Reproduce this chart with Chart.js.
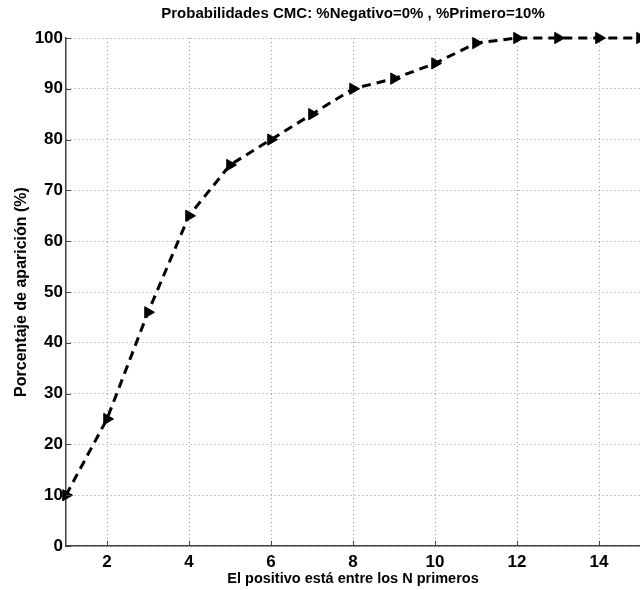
<!DOCTYPE html>
<html>
<head>
<meta charset="utf-8">
<script src="https://cdn.jsdelivr.net/npm/chart.js@4/dist/chart.umd.min.js"></script>
<style>
  html, body { margin: 0; padding: 0; background: #fff; }
  #wrap { width: 640px; height: 590px; position: relative; }
</style>
</head>
<body>
<div id="wrap"><canvas id="cmcChart" width="640" height="590"></canvas></div>
<script>
// Datos
const rangos = [1, 2, 3, 4, 5, 6, 7, 8, 9, 10, 11, 12, 13, 14, 15];
const porcentajes = [10, 25, 46, 65, 75, 80, 85, 90, 92, 95, 99, 100, 100, 100, 100];
const xTicks = [2, 4, 6, 8, 10, 12, 14];

const FONT = "'Liberation Sans', Arial, Helvetica, sans-serif";

// Título centrado sobre el área del gráfico + marcas interiores estilo MATLAB
const extrasPlugin = {
    id: 'extras',
    afterDraw(chart) {
        const { ctx, chartArea, scales } = chart;
        ctx.save();
        ctx.strokeStyle = '#444';
        ctx.lineWidth = 1;
        ctx.beginPath();
        xTicks.forEach(v => {
            const px = Math.round(scales.x.getPixelForValue(v)) + 0.5;
            ctx.moveTo(px, chartArea.bottom);
            ctx.lineTo(px, chartArea.bottom - 5);
        });
        scales.y.ticks.forEach(t => {
            const py = Math.round(scales.y.getPixelForValue(t.value)) + 0.5;
            ctx.moveTo(chartArea.left, py);
            ctx.lineTo(chartArea.left + 5, py);
        });
        ctx.stroke();

        ctx.font = 'bold 15px ' + FONT;
        ctx.fillStyle = '#000';
        ctx.textAlign = 'center';
        ctx.textBaseline = 'middle';
        ctx.fillText('Probabilidades CMC: %Negativo=0% , %Primero=10%', (chartArea.left + chartArea.right) / 2, 14);
        ctx.restore();
    }
};

new Chart(document.getElementById('cmcChart'), {
    type: 'line',
    data: {
        datasets: [{
            data: rangos.map((n, i) => ({ x: n, y: porcentajes[i] })),
            borderColor: '#000',
            backgroundColor: '#000',
            borderWidth: 3,
            borderDash: [9, 6],
            pointStyle: 'triangle',
            rotation: 90,
            pointRadius: 6.5,
            pointBorderWidth: 1,
            tension: 0,
            clip: false
        }]
    },
    options: {
        responsive: false,
        animation: false,
        layout: {
            autoPadding: false,
            padding: { left: 0, top: 38, right: 0, bottom: 0 }
        },
        plugins: {
            legend: { display: false },
            tooltip: { enabled: false }
        },
        scales: {
            x: {
                type: 'linear',
                min: 1,
                max: 15,
                afterBuildTicks(scale) {
                    scale.ticks = xTicks.map(v => ({ value: v }));
                },
                afterFit(scale) {
                    scale.height = 44;
                    scale.paddingLeft = 0;
                    scale.paddingRight = 0;
                },
                grid: { color: '#999', lineWidth: 1, drawTicks: false },
                border: { display: true, color: '#444', width: 1.5, dash: [1, 3] },
                ticks: {
                    color: '#000',
                    padding: 6,
                    font: { family: FONT, size: 17, weight: 'bold' }
                },
                title: {
                    display: true,
                    text: 'El positivo está entre los N primeros',
                    color: '#000',
                    padding: { top: 0, bottom: 2 },
                    font: { family: FONT, size: 14.5, weight: 'bold' }
                }
            },
            y: {
                min: 0,
                max: 100,
                ticks: {
                    stepSize: 10,
                    color: '#000',
                    padding: 3,
                    font: { family: FONT, size: 17, weight: 'bold' }
                },
                afterFit(scale) {
                    scale.width = 66;
                    scale.paddingTop = 0;
                    scale.paddingBottom = 0;
                },
                grid: { color: '#999', lineWidth: 1, drawTicks: false },
                border: { display: true, color: '#444', width: 1.5, dash: [1, 3] },
                title: {
                    display: true,
                    text: 'Porcentaje de aparición (%)',
                    color: '#000',
                    padding: { top: 12, bottom: 0 },
                    font: { family: FONT, size: 16, weight: 'bold' }
                }
            }
        }
    },
    plugins: [extrasPlugin]
});
</script>
</body>
</html>
